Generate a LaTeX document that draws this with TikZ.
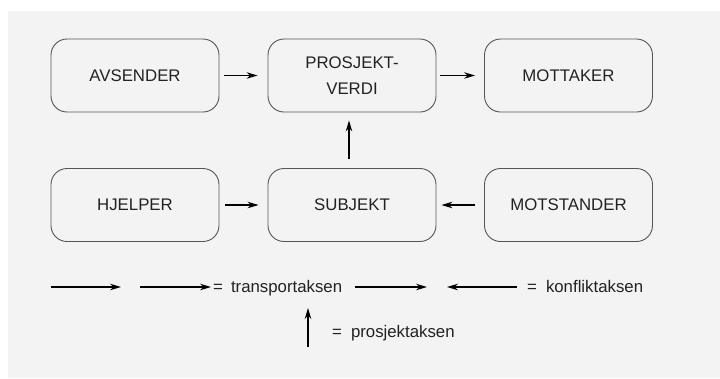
\documentclass[tikz,border=0pt]{standalone}
\usepackage{fontspec}
\setmainfont{Liberation Sans}
\usetikzlibrary{arrows.meta}
\definecolor{bgc}{HTML}{F3F3F3}
\definecolor{boxc}{HTML}{555555}
\definecolor{txtc}{HTML}{222222}
\tikzset{
  actant/.style={draw=boxc, line width=0.9pt, rounded corners=16pt, minimum width=168pt, minimum height=73pt, align=center, text=txtc, font=\fontsize{16.8}{26}\selectfont, inner sep=0pt},
  arr/.style={-{Stealth[length=11pt,width=6.5pt]}, line width=1.3pt, black},
  legend/.style={text=txtc, font=\fontsize{16.8}{20}\selectfont, inner sep=0pt, anchor=base west}
}
\begin{document}
\begin{tikzpicture}[x=1pt,y=-1pt]
\useasboundingbox (0,0) rectangle (720,378);
\fill[white] (0,0) rectangle (720,378);
\fill[bgc] (8,11) rectangle (720,378);
% boxes
\node[actant] (av) at (135,75.5) {AVSENDER};
\node[actant] (pv) at (352,75.5) {PROSJEKT-\\VERDI};
\node[actant] (mo) at (568.5,75.5) {MOTTAKER};
\node[actant] (hj) at (135,205) {HJELPER};
\node[actant] (su) at (352,205) {SUBJEKT};
\node[actant] (ms) at (568.5,205) {MOTSTANDER};
% connectors
\draw[arr] ([xshift=5pt]av.east) -- ([xshift=-10pt]pv.west);
\draw[arr] ([xshift=4pt]pv.east) -- ([xshift=-9pt]mo.west);
\draw[arr] ([xshift=-3pt,yshift=9pt]su.north) -- ([xshift=-3pt,yshift=-8pt]pv.south);
\draw[arr] ([xshift=6pt]hj.east) -- ([xshift=-9pt]su.west);
\draw[arr] ([xshift=-9pt]ms.west) -- ([xshift=5pt]su.east);
% legend
\coordinate (l1a) at (51,287);
\coordinate (l1b) at (121,287);
\coordinate (l2a) at (140,287);
\coordinate (l2b) at (211,287);
\coordinate (l3a) at (355,287);
\coordinate (l3b) at (427,287);
\coordinate (l4a) at (517,287);
\coordinate (l4b) at (447,287);
\coordinate (l5a) at (308,347);
\coordinate (l5b) at (308,308);
\draw[arr] (l1a) -- (l1b);
\draw[arr] (l2a) -- (l2b);
\draw[arr] (l3a) -- (l3b);
\draw[arr] (l4a) -- (l4b);
\draw[arr] (l5a) -- (l5b);
\node[legend] (tr) at (213,292) {=\hspace{8pt}transportaksen};
\node[legend] (ko) at (527,292) {=\hspace{9pt}konfliktaksen};
\node[legend] (pr) at (332,337) {=\hspace{9pt}prosjektaksen};
\end{tikzpicture}
\end{document}
